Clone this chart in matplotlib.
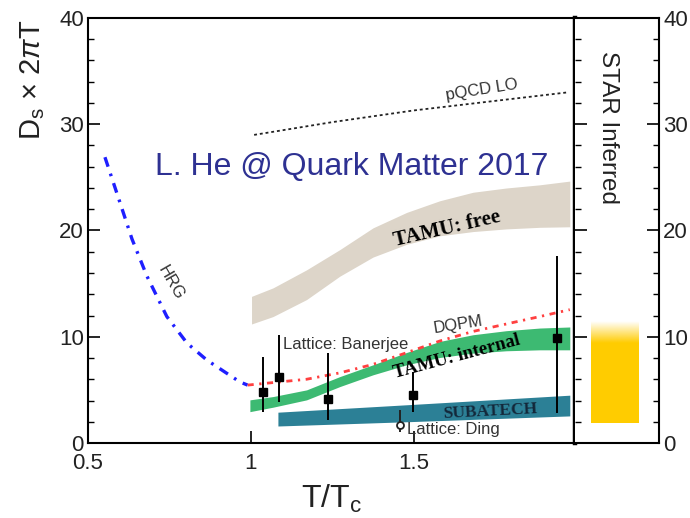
import numpy as np
import matplotlib.pyplot as plt
from matplotlib.ticker import MultipleLocator

plt.rcParams['font.family'] = ['Liberation Sans', 'DejaVu Sans']
plt.rcParams['mathtext.fontset'] = 'custom'
plt.rcParams['mathtext.rm'] = 'Liberation Sans'
plt.rcParams['mathtext.it'] = 'Liberation Sans:italic'

# hadron resonance gas curve
hrg_t = [0.552, 0.592, 0.635, 0.681, 0.742, 0.804, 0.865, 0.966, 0.99]
hrg_d = [26.9, 23.2, 19.2, 15.7, 11.9, 9.4, 7.8, 5.75, 5.45]

# pQCD leading order
pqcd_t = [1.01, 1.25, 1.5, 1.75, 1.972]
pqcd_d = [29.0, 30.2, 31.3, 32.2, 33.0]

# DQPM
dqpm_t = [0.99, 1.171, 1.273, 1.375, 1.478, 1.58, 1.682, 1.784, 1.887, 1.979]
dqpm_d = [5.45, 6.0, 6.6, 7.4, 8.5, 9.6, 10.5, 11.2, 11.9, 12.55]

# TAMU free band
free_t = [1.002, 1.068, 1.171, 1.273, 1.375, 1.478, 1.58, 1.682, 1.784, 1.887, 1.979]
free_lo = [11.2, 11.9, 13.5, 15.7, 17.5, 18.7, 19.5, 19.9, 20.15, 20.3, 20.35]
free_hi = [13.8, 14.6, 16.3, 18.2, 20.25, 21.7, 22.8, 23.6, 24.0, 24.3, 24.65]

# TAMU internal band
int_t = [0.997, 1.068, 1.171, 1.273, 1.375, 1.478, 1.58, 1.682, 1.784, 1.887, 1.979]
int_lo = [2.95, 3.37, 4.06, 5.31, 6.42, 7.36, 8.05, 8.46, 8.68, 8.77, 8.77]
int_hi = [4.06, 4.37, 5.0, 6.25, 7.36, 8.52, 9.56, 10.19, 10.57, 10.82, 10.92]

# SUBATECH band
sub_t = [1.083, 1.479, 1.979]
sub_lo = [1.6, 2.0, 2.55]
sub_hi = [2.9, 3.6, 4.5]

# lattice: Banerjee
ban_t = [1.037, 1.086, 1.236, 1.497, 1.939]
ban_d = [4.8, 6.2, 4.1, 4.5, 9.9]
ban_err_lo = [1.9, 2.35, 1.9, 1.6, 7.1]
ban_err_hi = [3.3, 4.0, 4.4, 2.2, 7.7]

# lattice: Ding
ding_t = [1.457]
ding_d = [1.7]
ding_err_lo = [0.7]
ding_err_hi = [1.4]

# STAR inferred range
star_lo = 1.9
star_solid = 9.4
star_hi = 11.4

fig = plt.figure(figsize=(6.9, 5.18), dpi=100)
ax = fig.add_axes([88 / 690, 75 / 518, 487 / 690, 425 / 518])
ax2 = fig.add_axes([575 / 690, 75 / 518, 84 / 690, 425 / 518])

ax.fill_between(free_t, free_lo, free_hi, color='#ddd5c9', lw=0)
ax.fill_between(int_t, int_lo, int_hi, color='#3dba72', lw=0)
ax.fill_between(sub_t, sub_lo, sub_hi, color='#2c8096', lw=0)

ax.plot(hrg_t, hrg_d, color='#1f1fff', lw=2.4, dashes=(3, 2.2, 0.8, 2.2))
ax.plot(pqcd_t, pqcd_d, color='#222222', lw=1.3, dashes=(1.6, 1.6))
ax.plot(dqpm_t, dqpm_d, color='#ff4040', lw=2.0, dashes=(2.2, 2.0, 0.8, 2.0))

ax.errorbar(ban_t, ban_d, yerr=[ban_err_lo, ban_err_hi], fmt='s', color='black',
            ms=5.5, elinewidth=1.4, capsize=0)
ax.errorbar(ding_t, ding_d, yerr=[ding_err_lo, ding_err_hi], fmt='o', color='#222222',
            mfc='white', ms=5, mew=1.3, elinewidth=1.4, capsize=0)

# labels on the curves
txt = '#333333'
ax.text(0.755, 15.1, 'HRG', rotation=-60, fontsize=12, color=txt, ha='center', va='center')
ax.text(1.709, 33.2, 'pQCD LO', rotation=9, fontsize=12, color=txt, ha='center', va='center')
ax.text(1.635, 11.15, 'DQPM', rotation=9, fontsize=12, color=txt, ha='center', va='center')
ax.text(1.098, 9.3, 'Lattice: Banerjee', fontsize=12, color=txt, ha='left', va='center')
ax.text(1.48, 1.3, 'Lattice: Ding', fontsize=12, color=txt, ha='left', va='center')
ax.text(1.601, 20.2, 'TAMU: free', rotation=13, fontsize=15, family='Liberation Serif',
        weight='bold', color='black', ha='center', va='center')
ax.text(1.632, 8.1, 'TAMU: internal', rotation=15, fontsize=13.5, family='Liberation Serif',
        weight='bold', color='black', ha='center', va='center')
ax.text(1.733, 2.95, 'SUBATECH', rotation=3, fontsize=12.5, family='Liberation Serif',
        weight='bold', color='#13283a', ha='center', va='center')
ax.text(0.705, 26.0, 'L. He @ Quark Matter 2017', fontsize=23, color='#2e3192',
        ha='left', va='center')

ax.set_xlim(0.5, 1.995)
ax.set_ylim(0, 40)
ax.yaxis.set_major_locator(MultipleLocator(10))
ax.yaxis.set_minor_locator(MultipleLocator(2))
ax.set_xticks([0.5, 1, 1.5])
ax.set_xticklabels(['0.5', '1', '1.5'])
ax.tick_params(axis='both', which='major', direction='in', length=8.5, width=1.2,
               labelsize=16, labelcolor='#222222', pad=3)
ax.tick_params(axis='x', which='major', pad=7)
ax.tick_params(axis='y', which='minor', direction='in', length=4.5, width=1.0)
for side in ['left', 'bottom', 'top']:
    ax.spines[side].set_linewidth(1.5)
ax.spines['right'].set_linewidth(3.2)

ax.set_xlabel(r'T/T$_{\rm c}$', fontsize=23, color='#222222')
ax.xaxis.set_label_coords(0.5, -0.095)
ax.set_ylabel(r'D$_{\rm s}$ $\times$ 2$\pi$T', fontsize=21, color='#222222')
ax.yaxis.set_label_coords(-0.085, 0.855)

# STAR panel
ax2.fill_between([0.19, 0.76], star_lo, star_solid, color='#ffcc00', lw=0)
fade = np.zeros((64, 1, 4))
fade[..., 0] = 1.0
fade[..., 1] = 0.8
fade[..., 2] = 0.0
fade[:, 0, 3] = np.linspace(1, 0, 64)
ax2.imshow(fade, extent=[0.19, 0.76, star_solid, star_hi], aspect='auto',
           origin='lower', interpolation='bilinear')
ax2.set_xlim(0, 1)
ax2.set_ylim(0, 40)
ax2.text(0.39, 29.7, 'STAR Inferred', rotation=-90, fontsize=17.5, color='#222222',
         ha='center', va='center')
ax2.set_xticks([])
ax2.yaxis.set_major_locator(MultipleLocator(10))
ax2.yaxis.set_minor_locator(MultipleLocator(2))
ax2.tick_params(axis='y', which='both', left=True, right=True, labelleft=False,
                labelright=True, direction='in')
ax2.tick_params(axis='y', which='major', length=8.5, width=1.2, labelsize=16,
                labelcolor='#222222', pad=3)
ax2.tick_params(axis='y', which='minor', length=4.5, width=1.0)
ax2.spines['left'].set_visible(False)
for side in ['right', 'bottom', 'top']:
    ax2.spines[side].set_linewidth(1.5)

fig.savefig('out.png', dpi=100)
